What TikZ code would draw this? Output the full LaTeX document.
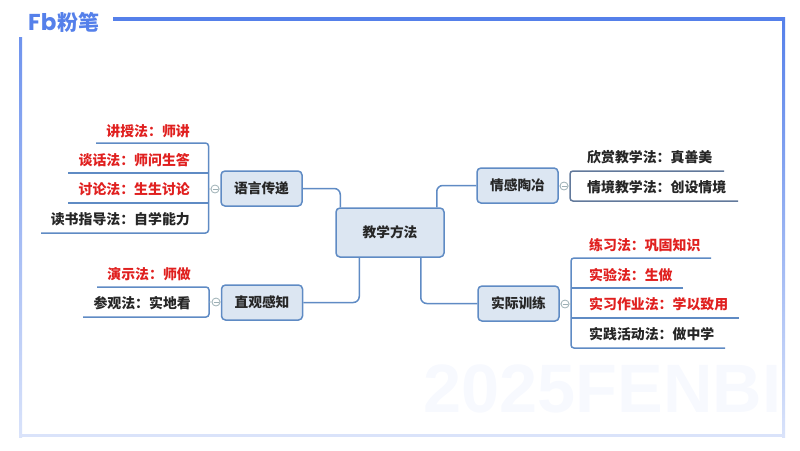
\documentclass[tikz,border=0pt]{standalone}
\usepackage{fontspec}
\setmainfont{Liberation Sans}
\newfontfamily\cjk{Noto Sans CJK SC}
\newfontfamily\logofont{Poppins}
\definecolor{framecol}{HTML}{5580EA}
\definecolor{linecol}{HTML}{5F8BC4}
\definecolor{darkline}{HTML}{62799B}
\definecolor{boxfill}{HTML}{DCE6F2}
\definecolor{redtxt}{HTML}{E0201F}
\definecolor{blacktxt}{HTML}{262626}
\definecolor{foldcol}{HTML}{9DB0B5}
\tikzset{
  topicbox/.style={draw=linecol,fill=boxfill,line width=1.5pt,rounded corners=4pt,
    minimum width=81pt,minimum height=35pt,inner sep=0pt,text=blacktxt,font=\cjk\bfseries\fontsize{13.7}{14}\selectfont},
  branch/.style={draw=linecol,line width=1.5pt,rounded corners=3pt},
  foldlink/.style={draw=foldcol,line width=.8pt},
  fold/.style={circle,draw=foldcol,fill=white,line width=.8pt,minimum size=8pt,inner sep=0pt,
    path picture={\draw [foldcol,line width=.6pt] ([xshift=1.5pt]path picture bounding box.west) -- ([xshift=-1.5pt]path picture bounding box.east);}},
  item/.style={inner sep=0pt,font=\cjk\bfseries\fontsize{13.9}{14}\selectfont},
  redit/.style={item,text=redtxt},
  blackit/.style={item,text=blacktxt}
}
\begin{document}
\begin{tikzpicture}[x=1pt,y=-1pt]
  \useasboundingbox (0,0) rectangle (800,450);

  % frame
  \fill [framecol] (113,17) rectangle (785,20.5);
  \shade [top color=framecol!85,bottom color=framecol!22] (19,37) rectangle (22,437);
  \shade [top color=framecol,bottom color=framecol!22] (782,17) rectangle (785,437);
  \fill [framecol!22] (19,433.5) rectangle (785,437);
  \node [text=framecol!5,anchor=west,inner sep=0pt,font=\bfseries\fontsize{68.5}{68.5}\selectfont] (mark) at (423,389) {2025FENBI};

  % logo
  \node [text=framecol,anchor=west,inner sep=0pt,font=\logofont\bfseries\fontsize{23}{23}\selectfont] (logofb) at (28,22) {Fb};
  \node [text=framecol,anchor=west,inner sep=0pt,font=\cjk\bfseries\fontsize{21}{21}\selectfont] (logotxt) at (57,22) {粉笔};

  % main topics
  \node [topicbox,minimum width=108pt,minimum height=49pt] (jiaoxue) at (390,232.5) {教学方法};
  \node [topicbox] (yuyan) at (261.5,188.5) {语言传递};
  \node [topicbox] (zhiguan) at (262,302.5) {直观感知};
  \node [topicbox] (qinggan) at (517.5,185.5) {情感陶冶};
  \node [topicbox] (shijian) at (518.5,303.5) {实际训练};

  \draw [branch,rounded corners=6pt] (yuyan.east) -| ([xshift=5pt]jiaoxue.north west);
  \draw [branch,rounded corners=6pt] (zhiguan.east) -| ([xshift=24pt]jiaoxue.south west);
  \draw [branch,rounded corners=6pt] (qinggan.west) -| ([xshift=-8pt]jiaoxue.north east);
  \draw [branch,rounded corners=6pt] (shijian.west) -| ([xshift=-24pt]jiaoxue.south east);

  % left upper
  \node [redit,anchor=east] (jiangshou) at (190,131) {讲授法：师讲};
  \node [redit,anchor=east] (tanhua) at (190,160) {谈话法：师问生答};
  \node [redit,anchor=east] (taolun) at (190,189) {讨论法：生生讨论};
  \node [blackit,anchor=east] (dushu) at (190,219) {读书指导法：自学能力};
  \coordinate (y1) at (96,143);
  \coordinate (y2) at (68,173);
  \coordinate (y3) at (68,203);
  \coordinate (y4) at (41,233);
  \coordinate (yc) at (208.5,189);
  \draw [branch] (y1) -| (yc) |- (y4);
  \draw [branch] (y2) -- (y2 -| yc);
  \draw [branch] (y3) -- (y3 -| yc);
  \node [fold] (yfold) at (215,189) {};
  \draw [foldlink] (yc) -- (yfold) -- (yuyan);

  % left lower
  \node [redit,anchor=east] (yanshi) at (191,274) {演示法：师做};
  \node [blackit,anchor=east] (canguan) at (191,303) {参观法：实地看};
  \coordinate (z1) at (97,287);
  \coordinate (z2) at (83,317);
  \coordinate (zc) at (209,302);
  \draw [branch] (z1) -| (zc) |- (z2);
  \node [fold] (zfold) at (216,302) {};
  \draw [foldlink] (zc) -- (zfold) -- (zhiguan);

  % right upper
  \node [blackit,anchor=west] (xinshang) at (587,157) {欣赏教学法：真善美};
  \node [blackit,anchor=west] (qingjing) at (587,187) {情境教学法：创设情境};
  \coordinate (q1) at (724,171);
  \coordinate (q2) at (738,201);
  \coordinate (qc) at (570,186);
  \draw [branch,draw=darkline] (q1) -| (qc) |- (q2);
  \node [fold] (qfold) at (564,186) {};
  \draw [foldlink] (qc) -- (qfold) -- (qinggan);

  % right lower
  \node [redit,anchor=west] (lianxi) at (589,245) {练习法：巩固知识};
  \node [redit,anchor=west] (shiyan) at (589,275) {实验法：生做};
  \node [redit,anchor=west] (shixi) at (589,304) {实习作业法：学以致用};
  \node [blackit,anchor=west] (huodong) at (589,334) {实践活动法：做中学};
  \coordinate (s1) at (711,258);
  \coordinate (s2) at (683,288);
  \coordinate (s3) at (739,318);
  \coordinate (s4) at (725,348);
  \coordinate (sc) at (571,304);
  \draw [branch] (s1) -| (sc) |- (s4);
  \draw [branch] (s2) -- (s2 -| sc);
  \draw [branch] (s3) -- (s3 -| sc);
  \node [fold] (sfold) at (565,304) {};
  \draw [foldlink] (sc) -- (sfold) -- (shijian);
\end{tikzpicture}
\end{document}
